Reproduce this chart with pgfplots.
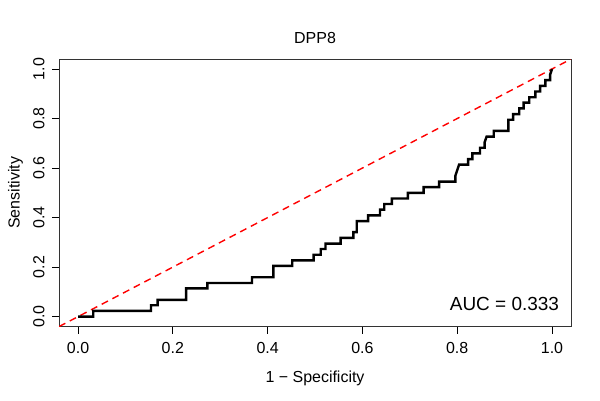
\documentclass[border=0pt]{standalone}
\usepackage{fontspec}
\setmainfont{Liberation Sans}
\usepackage{pgfplots}
\pgfplotsset{compat=1.18}

\begin{document}
\begin{tikzpicture}[font=\fontsize{16}{19}\selectfont]
\begin{axis}[
    scale only axis,
    width=511bp, height=267bp,
    xmin=-0.04, xmax=1.04,
    ymin=-0.04, ymax=1.04,
    xtick={0,0.2,0.4,0.6,0.8,1},
    ytick={0,0.2,0.4,0.6,0.8,1},
    xtick pos=left, ytick pos=left,
    tick align=outside,
    major tick length=7bp,
    every tick/.style={black, line width=0.7bp},
    axis line style={line width=0.8bp, black!80},
    /pgf/number format/assume math mode=true,
    /pgf/number format/.cd, fixed, fixed zerofill, precision=1, /pgfplots/.cd,
    xticklabel shift=5bp,
    yticklabel shift=4bp,
    yticklabel style={rotate=90, anchor=south},
    title={DPP8},
    title style={at={(0.5,1.057)}, anchor=center},
    xlabel={1 − Specificity},
    xlabel style={at={(0.5,-0.193)}, anchor=center},
    ylabel={Sensitivity},
    ylabel style={at={(-0.0851,0.5)}, anchor=center},
]
\addplot[red, line width=1.4bp, dash pattern=on 7bp off 5bp] coordinates {(-0.04,-0.04) (1.04,1.04)};
\addplot[black, line width=2.4bp, line join=miter] coordinates {
    (0,0) (0.032,0) (0.032,0.023) (0.154,0.023) (0.154,0.046) (0.168,0.046)
    (0.168,0.068) (0.228,0.068) (0.228,0.114) (0.273,0.114) (0.273,0.136)
    (0.367,0.136) (0.367,0.159) (0.412,0.159) (0.412,0.205) (0.452,0.205)
    (0.452,0.227) (0.497,0.227) (0.497,0.25) (0.512,0.25) (0.512,0.273)
    (0.522,0.273) (0.522,0.295) (0.554,0.295) (0.554,0.318) (0.581,0.318)
    (0.581,0.341) (0.588,0.341) (0.588,0.386) (0.612,0.386) (0.612,0.409)
    (0.637,0.409) (0.637,0.432) (0.646,0.432) (0.646,0.455) (0.662,0.455)
    (0.662,0.477) (0.696,0.477) (0.696,0.5) (0.729,0.5) (0.729,0.523)
    (0.762,0.523) (0.762,0.545) (0.796,0.545) (0.796,0.568) (0.800,0.591)
    (0.804,0.614) (0.823,0.614) (0.823,0.636) (0.832,0.636) (0.832,0.659)
    (0.848,0.659) (0.848,0.682) (0.858,0.682) (0.858,0.705) (0.862,0.727)
    (0.877,0.727) (0.877,0.75) (0.908,0.75) (0.908,0.795) (0.918,0.795)
    (0.918,0.818) (0.931,0.818) (0.931,0.841) (0.94,0.841) (0.94,0.864)
    (0.952,0.864) (0.952,0.886) (0.965,0.886) (0.965,0.909) (0.975,0.909)
    (0.975,0.932) (0.986,0.932) (0.986,0.955) (0.996,0.955) (0.996,0.977)
    (1,1)
};
\node[anchor=east, inner sep=0pt, font=\fontsize{19}{22}\selectfont]
    at (rel axis cs:0.977,0.0835) {AUC = 0.333};
\end{axis}
\pgfresetboundingbox
\path[use as bounding box] ([shift={(-59bp,-74bp)}]current axis.south west)
    rectangle ([shift={(29bp,59bp)}]current axis.north east);
\end{tikzpicture}
\end{document}
